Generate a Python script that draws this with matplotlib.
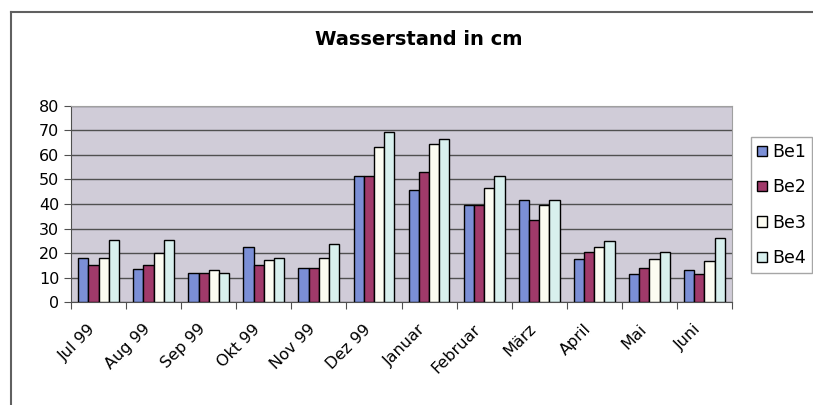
import numpy as np
import matplotlib
matplotlib.use("Agg")
import matplotlib.pyplot as plt
from matplotlib.lines import Line2D
from matplotlib.transforms import ScaledTranslation

plt.rcParams['font.family'] = ['DejaVu Sans']

# Monatswerte Wasserstand (cm) fuer die vier Brunnen
monate = ['Jul 99', 'Aug 99', 'Sep 99', 'Okt 99', 'Nov 99', 'Dez 99',
          'Januar', 'Februar', 'März', 'April', 'Mai', 'Juni']
be1 = [18, 13.3, 12, 22.4, 14, 51.5, 45.7, 39.6, 41.8, 17.5, 11.5, 13]
be2 = [15.3, 15.3, 11.8, 15, 14, 51.5, 53.2, 39.6, 33.5, 20.5, 13.8, 11.5]
be3 = [18, 20.1, 13.2, 17, 18, 63.3, 64.5, 46.4, 39.6, 22.6, 17.4, 16.7]
be4 = [25.4, 25.4, 12, 18, 23.7, 69.3, 66.4, 51.3, 41.8, 25.1, 20.3, 26.3]
namen = ['Be1', 'Be2', 'Be3', 'Be4']
farben = ['#7b8fd6', '#a03a6a', '#fcfcf2', '#d8f0ee']

fig = plt.figure(figsize=(8.13, 4.05), dpi=100)
ax = fig.add_axes([0.0873, 0.2543, 0.8131, 0.484])
ax.set_facecolor('#d0ccd8')

x = np.arange(len(monate))
breite = 0.185
for i, werte in enumerate([be1, be2, be3, be4]):
    ax.bar(x + (i - 1.5) * breite, werte, breite, color=farben[i],
           edgecolor='black', linewidth=1, label=namen[i], zorder=3)

ax.set_xlim(-0.5, len(monate) - 0.5)
ax.set_ylim(0, 80)
ax.set_yticks(range(0, 81, 10))
ax.yaxis.grid(True, color='#505050', linewidth=1, zorder=1)

# Striche zwischen den Kategorien, Beschriftung unter der Mitte
ax.set_xticks(np.arange(-0.5, len(monate), 1))
ax.set_xticklabels([])
ax.set_xticks(x, minor=True)
ax.set_xticklabels(monate, minor=True, rotation=45, ha='right', va='top',
                   rotation_mode='anchor', fontsize=11.5)
ax.tick_params(axis='x', which='minor', length=0, pad=14)
ax.tick_params(axis='x', which='major', length=5, color='#505050')
ax.tick_params(axis='y', length=5, color='#505050', labelsize=11.5, pad=3.5)

verschiebung = ScaledTranslation(-11 / 100, 0, fig.dpi_scale_trans)
for lbl in ax.get_xticklabels(minor=True):
    lbl.set_transform(lbl.get_transform() + verschiebung)

for s in ['left', 'bottom']:
    ax.spines[s].set_color('#505050')
for s in ['top', 'right']:
    ax.spines[s].set_color('#a0a0a0')

fig.text(0.515, 0.903, 'Wasserstand in cm', ha='center', va='center',
         fontsize=14, fontweight='bold')

leg = fig.legend(loc='upper left', bbox_to_anchor=(0.924, 0.662),
                 borderaxespad=0, frameon=True, fancybox=False, fontsize=12.5,
                 handlelength=0.55, handleheight=0.55, handletextpad=0.3,
                 labelspacing=1.0, borderpad=0.35)
leg.get_frame().set_edgecolor('#909090')
leg.get_frame().set_linewidth(1)

# Rahmen um das Diagramm
fig.add_artist(Line2D([0.0135, 1.0], [0.970, 0.970], color='#606060', lw=1.5))
fig.add_artist(Line2D([0.0135, 0.0135], [0.0, 0.970], color='#606060', lw=1.5))

fig.savefig('out.png', dpi=100)
